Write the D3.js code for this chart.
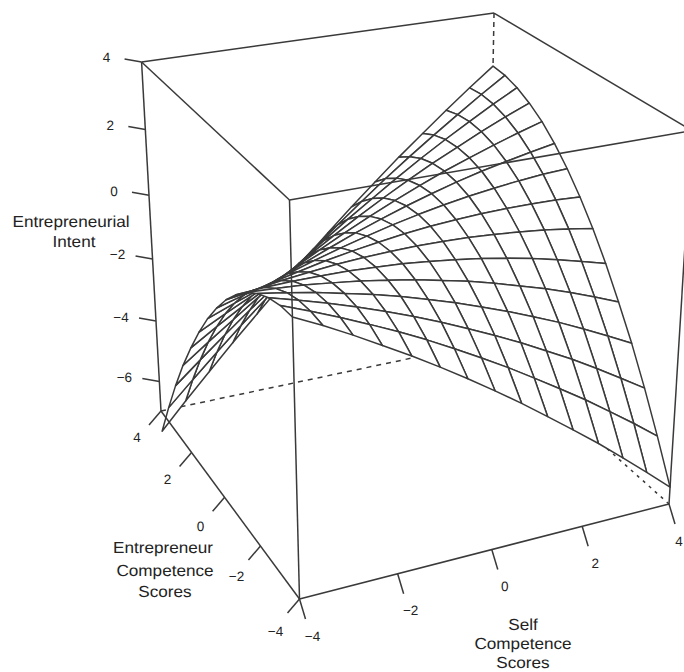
<!DOCTYPE html>
<html>
<head>
<meta charset="utf-8">
<script src="https://cdn.jsdelivr.net/npm/d3@7"></script>
<style>
html,body{margin:0;padding:0;background:#fff;overflow:hidden}
text{font-family:"Liberation Sans",Arial,sans-serif;fill:#222;text-rendering:geometricPrecision}
</style>
</head>
<body>
<svg id="chart" width="684" height="672"></svg>
<script>
// Grid of the surface
const xGrid = [-4,-3.43,-2.86,-2.29,-1.71,-1.14,-0.57,0,0.57,1.14,1.71,2.29,2.86,3.43,4];
const yGrid = [-4,-3.43,-2.86,-2.29,-1.71,-1.14,-0.57,0,0.57,1.14,1.71,2.29,2.86,3.43,4];
// Entrepreneurial Intent: one row per yGrid value, one column per xGrid value
const zRows = [
[0.98,0.59,0.17,-0.28,-0.74,-1.22,-1.72,-2.24,-2.78,-3.35,-3.93,-4.53,-5.16,-5.80,-6.46],
[0.94,0.63,0.30,-0.05,-0.42,-0.81,-1.23,-1.66,-2.11,-2.59,-3.08,-3.59,-4.13,-4.68,-5.26],
[0.81,0.59,0.35,0.09,-0.20,-0.50,-0.82,-1.17,-1.53,-1.91,-2.32,-2.74,-3.19,-3.66,-4.14],
[0.59,0.46,0.31,0.13,-0.06,-0.27,-0.51,-0.76,-1.04,-1.33,-1.65,-1.98,-2.34,-2.72,-3.11],
[0.28,0.24,0.18,0.09,-0.01,-0.14,-0.28,-0.45,-0.63,-0.84,-1.07,-1.31,-1.58,-1.87,-2.18],
[-0.12,-0.07,-0.04,-0.04,-0.05,-0.09,-0.14,-0.22,-0.32,-0.43,-0.57,-0.73,-0.91,-1.11,-1.32],
[-0.60,-0.47,-0.35,-0.26,-0.18,-0.13,-0.10,-0.08,-0.09,-0.12,-0.17,-0.24,-0.32,-0.43,-0.56],
[-1.18,-0.95,-0.75,-0.57,-0.40,-0.26,-0.14,-0.03,0.05,0.11,0.15,0.17,0.17,0.15,0.11],
[-1.84,-1.53,-1.24,-0.96,-0.71,-0.48,-0.27,-0.07,0.10,0.25,0.38,0.49,0.58,0.65,0.69],
[-2.60,-2.19,-1.81,-1.45,-1.11,-0.79,-0.48,-0.20,0.06,0.30,0.52,0.72,0.89,1.05,1.19],
[-3.44,-2.94,-2.47,-2.02,-1.59,-1.18,-0.79,-0.42,-0.07,0.26,0.57,0.85,1.12,1.37,1.60],
[-4.37,-3.79,-3.23,-2.68,-2.17,-1.67,-1.19,-0.73,-0.29,0.13,0.53,0.90,1.26,1.60,1.91],
[-5.39,-4.72,-4.07,-3.44,-2.83,-2.24,-1.67,-1.12,-0.60,-0.09,0.40,0.87,1.31,1.74,2.14],
[-6.50,-5.74,-5.00,-4.28,-3.58,-2.90,-2.24,-1.61,-0.99,-0.39,0.18,0.74,1.27,1.79,2.28],
[-7.69,-6.84,-6.02,-5.21,-4.42,-3.65,-2.91,-2.18,-1.47,-0.79,-0.12,0.52,1.15,1.75,2.33]
];
const xTicks = [-4,-2,0,2,4];
const yTicks = [-4,-2,0,2,4];
const zTicks = [-6,-4,-2,0,2,4];
const xLimits = [-4,4];
const yLimits = [-4,4];
const zLimits = [-7,4];
const zTitle = ["Entrepreneurial","Intent"];
const yTitle = ["Entrepreneur","Competence","Scores"];
const xTitle = ["Self","Competence","Scores"];

// Scales from data space to the unit cube of the view
const uScale = d3.scaleLinear().domain(xLimits).range([0,1]);
const vScale = d3.scaleLinear().domain(yLimits).range([0,1]);
const wScale = d3.scaleLinear().domain(zLimits).range([0,1]);

// Perspective camera: image of the near box corner and of its three neighbours, with their depth weights
const cam = {o:[299.5,599], u:[669,504], v:[161,411], w:[289.5,200], a:1.0849, b:1.1775, c:0.913};
function project(x,y,z){
  const u=uScale(x), v=vScale(y), w=wScale(z);
  const k=1-u-v-w;
  const d=k+u*cam.a+v*cam.b+w*cam.c;
  return [0,1].map(i=>(k*cam.o[i]+u*cam.a*cam.u[i]+v*cam.b*cam.v[i]+w*cam.c*cam.w[i])/d);
}

const svg = d3.select("#chart");
const line = d3.line();
const ink = "#3a3a3a";
const [x0,x1]=xLimits, [y0,y1]=yLimits, [z0,z1]=zLimits;

function edge(g,a,b,dash){
  g.append("path").attr("d",line([project(...a),project(...b)]))
   .attr("fill","none").attr("stroke",ink).attr("stroke-width",1.5)
   .attr("stroke-dasharray",dash||null);
}

// Back of the box
const back = svg.append("g");
edge(back,[x0,y1,z0],[x1,y1,z0],"5,5");
edge(back,[x1,y0,z0],[x1,y1,z0],"3,5");
edge(back,[x1,y1,z0],[x1,y1,z1],"5,4");
edge(back,[x0,y1,z0],[x0,y1,z1]);
edge(back,[x0,y1,z1],[x1,y1,z1]);
edge(back,[x1,y1,z1],[x1,y0,z1]);

// Surface, far cells first, white so that nearer cells hide what lies behind
const cells=[];
for(let j=yGrid.length-2;j>=0;j--){
  for(let i=xGrid.length-2;i>=0;i--){
    cells.push([[i,j],[i+1,j],[i+1,j+1],[i,j+1]]);
  }
}
svg.append("g").selectAll("path").data(cells).join("path")
  .attr("d",c=>line(c.map(([i,j])=>project(xGrid[i],yGrid[j],zRows[j][i])))+"Z")
  .attr("fill","#fff").attr("stroke",ink).attr("stroke-width",1.5).attr("stroke-linejoin","round");

// Front of the box
const front = svg.append("g");
edge(front,[x0,y0,z0],[x0,y0,z1]);
edge(front,[x0,y0,z1],[x1,y0,z1]);
edge(front,[x0,y0,z1],[x0,y1,z1]);
edge(front,[x1,y0,z0],[x1,y0,z1]);
edge(front,[x0,y0,z0],[x1,y0,z0]);
edge(front,[x0,y0,z0],[x0,y1,z0]);

// Axes
function tick(g,p,dx,dy,lx,ly,label){
  g.append("line").attr("x1",p[0]).attr("y1",p[1]).attr("x2",p[0]+dx).attr("y2",p[1]+dy)
    .attr("stroke",ink).attr("stroke-width",1.5);
  g.append("text").attr("x",p[0]+lx).attr("y",p[1]+ly).attr("text-anchor","middle")
    .attr("dominant-baseline","central").attr("font-size",13.5).text(label);
}
const fmt = d=>String(d).replace("-","\u2212");
const axes = svg.append("g");
xTicks.forEach(d=>tick(axes,project(d,y0,z0),6,20,d===x1?10:13,37,fmt(d)));
yTicks.forEach(d=>tick(axes,project(x0,d,z0),-12,14,-24,26+(4-d)*0.75,fmt(d)));
zTicks.forEach(d=>tick(axes,project(x0,y1,d),-17,-3,-35,-4,fmt(d)));

// Axis titles
function title(lines,centers,baselines){
  lines.forEach((s,i)=>svg.append("text")
    .attr("transform",`translate(${centers[i]},${baselines[i]}) scale(1.07,1)`)
    .attr("text-anchor","middle").attr("font-size",16).text(s));
}
title(zTitle,[71,74],[227,247]);
title(yTitle,[163,165,165],[553,576,597]);
title(xTitle,[523,523,523],[630,649,668]);
</script>
</body>
</html>
